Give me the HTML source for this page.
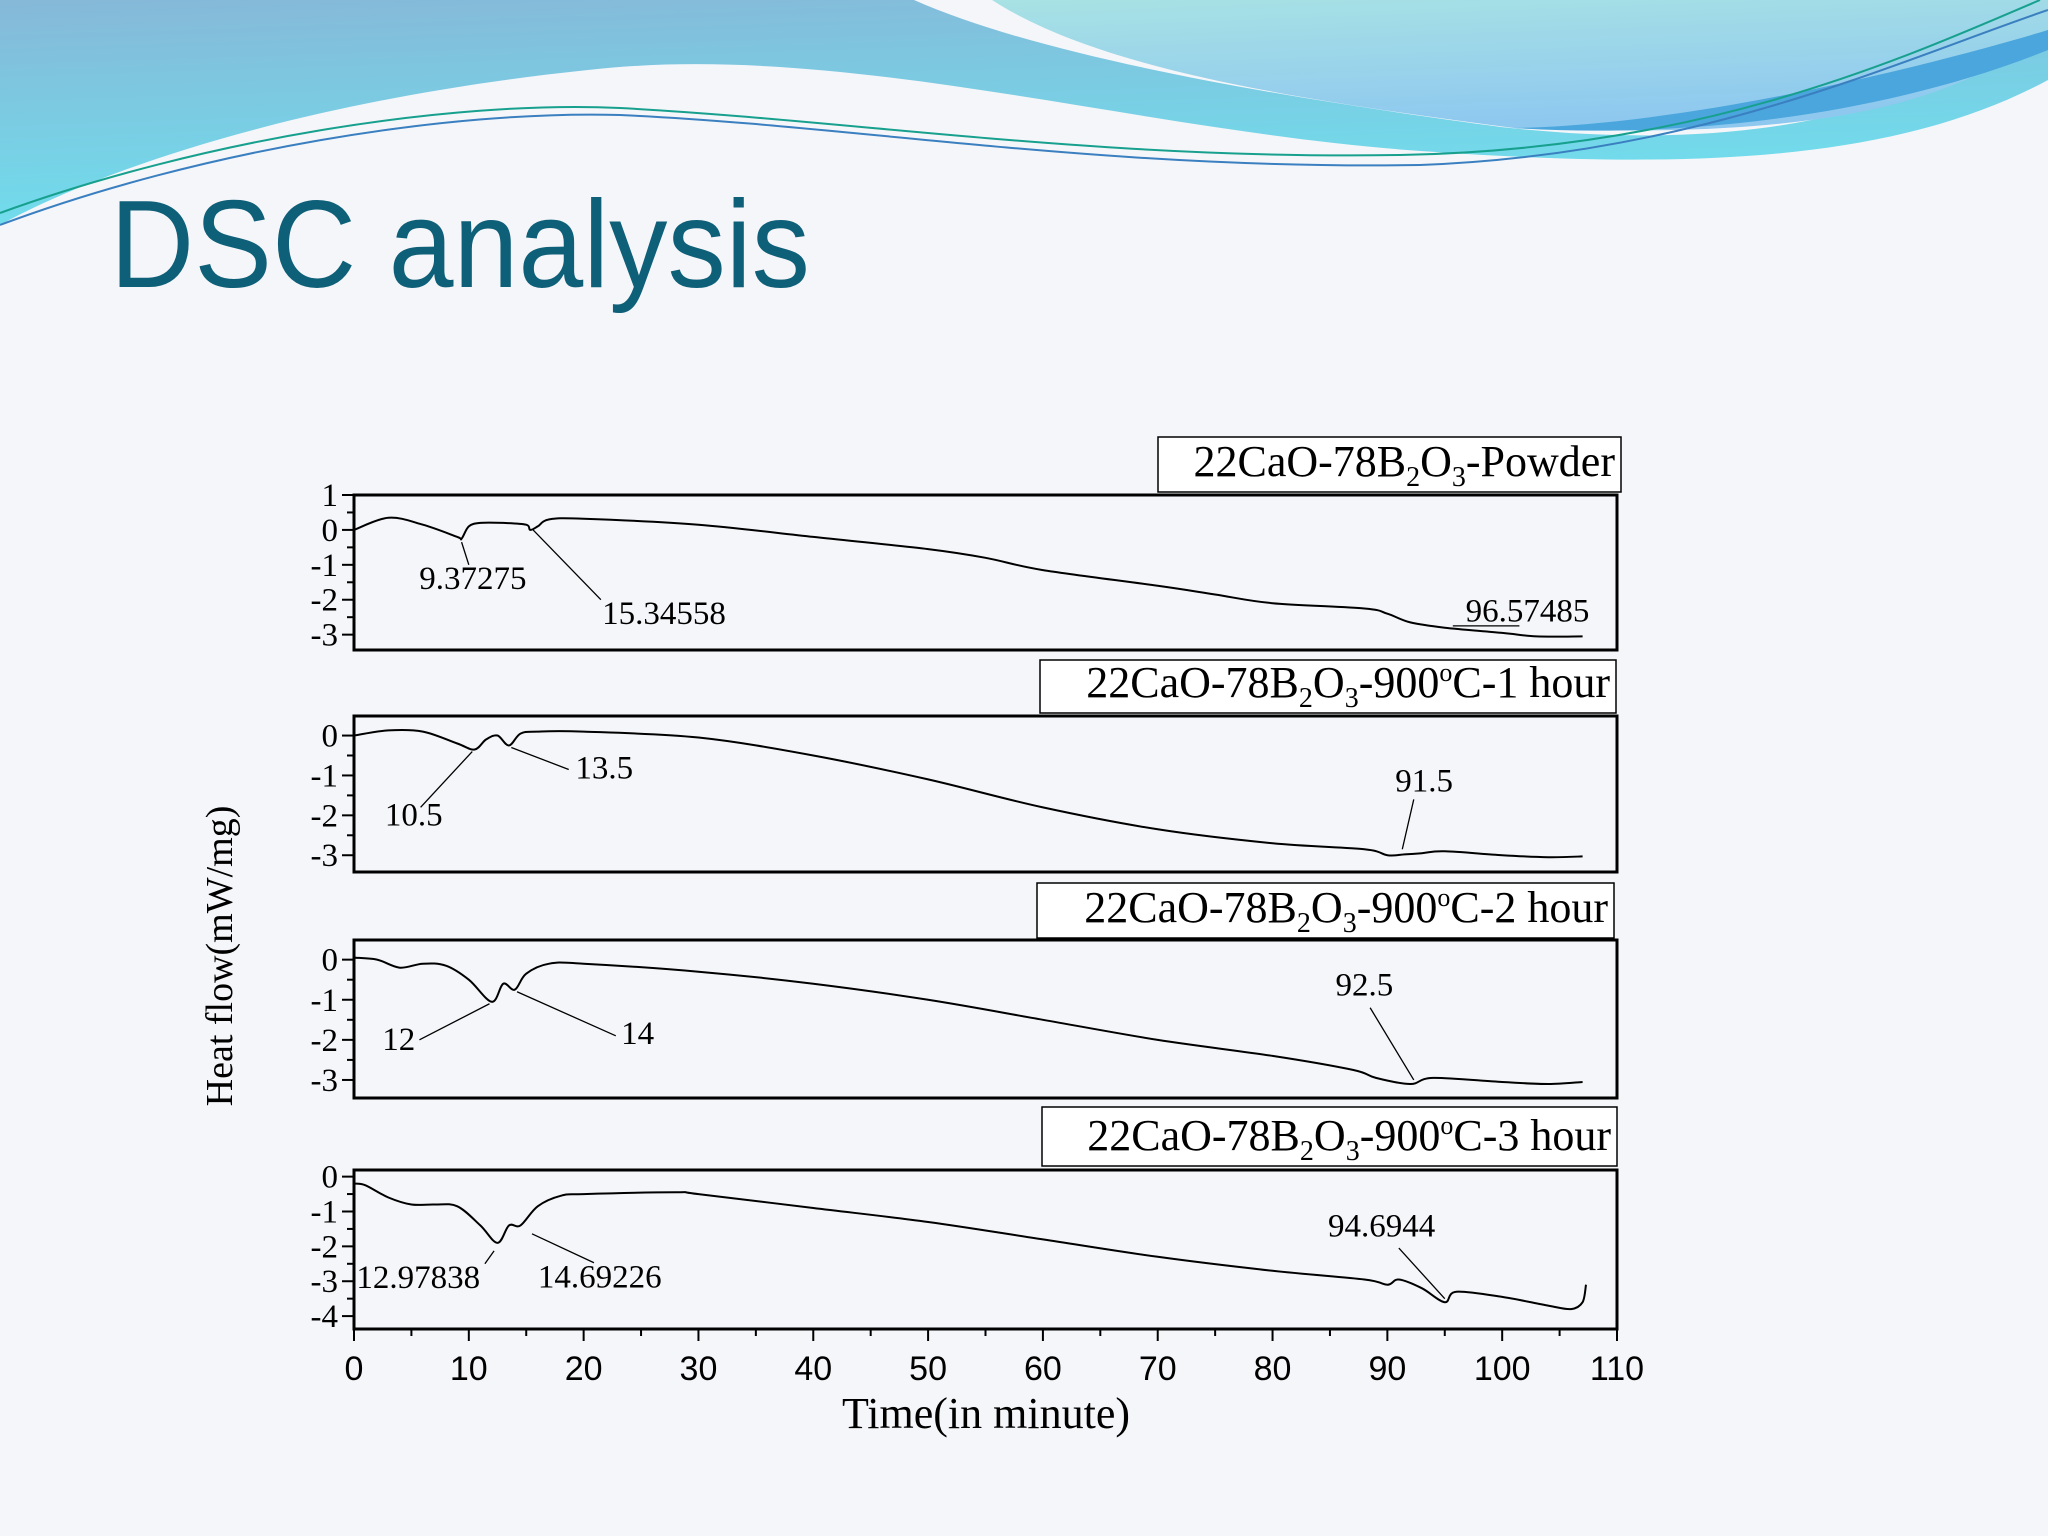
<!DOCTYPE html>
<html><head><meta charset="utf-8"><style>
html,body{margin:0;padding:0;background:#f5f6f9;}
svg{display:block;}
</style></head><body>
<svg width="2048" height="1536" viewBox="0 0 2048 1536" xmlns="http://www.w3.org/2000/svg">
<defs>
<linearGradient id="gL" x1="0" y1="0" x2="0.3" y2="1"><stop offset="0" stop-color="#86b8d8"/><stop offset="1" stop-color="#6fe0ee"/></linearGradient>
<linearGradient id="gR" x1="0" y1="0" x2="0.3" y2="1"><stop offset="0" stop-color="#a8e2e4"/><stop offset="1" stop-color="#8ec8ef"/></linearGradient>
</defs>
<rect width="2048" height="1536" fill="#f5f6f9"/>
<g>
<path d="M0,0 L2048,0 L2048,80 C1900,160 1700,170 1436,152 C1150,135 850,40 588,70 C300,100 100,170 0,225 Z" fill="url(#gL)"/>
<path d="M914,0 L2048,0 L2048,10 C1950,90 1800,160 1501,127 C1300,100 1050,60 914,0 Z" fill="#f5f6f9"/>
<path d="M992,0 L2048,0 L2048,30 C1950,110 1800,140 1514,128 C1300,100 1100,70 992,0 Z" fill="url(#gR)"/>
<path d="M1514,128 C1700,125 1950,60 2048,30 L2048,50 C1900,110 1700,140 1514,128 Z" fill="#4aa6dc"/>
<path d="M0,213 C200,140 450,100 620,108 C850,120 1100,160 1400,155 C1700,150 1900,60 2040,0" fill="none" stroke="#17a08e" stroke-width="2"/>
<path d="M0,225 C200,150 450,110 620,115 C850,125 1100,170 1420,165 C1700,155 1900,60 2048,10" fill="none" stroke="#3a7fc0" stroke-width="2"/>
</g>
<text x="110" y="287" font-family="Liberation Sans, sans-serif" font-size="124" fill="#0e5f78" textLength="700" lengthAdjust="spacingAndGlyphs">DSC analysis</text>
<g id="chart"></g>
</svg>
<script>
const xTicks=[0,10,20,30,40,50,60,70,80,90,100,110];
const p1X=[0,3,6,9,9.37,10,11,13,15,15.35,16,17,20,30,40,50,55,60,70,75,80,88,90,92,95,100,103,107];
const p1Y=[0,0.35,0.15,-0.2,-0.25,0.1,0.2,0.2,0.15,0.0,0.1,0.3,0.32,0.15,-0.2,-0.55,-0.8,-1.15,-1.6,-1.85,-2.1,-2.25,-2.4,-2.65,-2.8,-2.95,-3.05,-3.05];
const p2X=[0,3,6,9,10.5,11.5,12.5,13.5,14.5,16,20,30,40,50,60,70,80,88,90,91.5,93,95,100,104,107];
const p2Y=[0,0.13,0.1,-0.2,-0.35,-0.1,0.0,-0.25,0.05,0.1,0.1,-0.05,-0.5,-1.1,-1.8,-2.35,-2.7,-2.85,-3.0,-2.98,-2.95,-2.9,-3.0,-3.05,-3.03];
const p3X=[0,2,4,6,8,10,12,13,14,15,17,20,30,40,50,60,70,80,87,89,92,94,100,104,107];
const p3Y=[0.05,0,-0.2,-0.1,-0.15,-0.5,-1.05,-0.6,-0.75,-0.35,-0.1,-0.1,-0.3,-0.6,-1.0,-1.5,-2.0,-2.4,-2.75,-2.95,-3.1,-2.95,-3.05,-3.1,-3.05];
const p4X=[0,1,3,5,7,9,11,12.5,13.5,14.5,16,18,20,28,30,40,50,60,70,80,88,90,91,93,95,96,100,104,106,107,107.3];
const p4Y=[-0.2,-0.25,-0.6,-0.8,-0.8,-0.85,-1.4,-1.9,-1.4,-1.4,-0.85,-0.55,-0.5,-0.45,-0.5,-0.9,-1.3,-1.8,-2.3,-2.7,-2.95,-3.1,-2.95,-3.2,-3.6,-3.3,-3.45,-3.7,-3.8,-3.6,-3.1];
const panels=[
 {top:495,bot:650,ymax:1,ymin:-3.44,ticks:[1,0,-1,-2,-3],xs:p1X,ys:p1Y,box:[1158,437,463,55],mid:"-Powder",name:"powder",
  ann:[{t:"9.37275",x:10.35,y:-1.69,l:[9.37,-0.35,10,-1.0]},{t:"15.34558",x:27,y:-2.7,l:[15.6,0,21.5,-2.0]},{t:"96.57485",x:102.2,y:-2.62,l:[95.7,-2.75,101.5,-2.75]}]},
 {top:716,bot:872,ymax:0.49,ymin:-3.42,ticks:[0,-1,-2,-3],xs:p2X,ys:p2Y,box:[1040,660,576,53],h:"-1 hour",name:"900c-1h",
  ann:[{t:"10.5",x:5.2,y:-2.25,l:[10.3,-0.4,5.8,-1.8]},{t:"13.5",x:21.8,y:-1.08,l:[13.7,-0.3,18.7,-0.85]},{t:"91.5",x:93.2,y:-1.4,l:[92.3,-1.6,91.3,-2.85]}]},
 {top:940,bot:1098,ymax:0.49,ymin:-3.45,ticks:[0,-1,-2,-3],xs:p3X,ys:p3Y,box:[1037,883,577,55],h:"-2 hour",name:"900c-2h",
  ann:[{t:"12",x:3.9,y:-2.25,l:[5.7,-2.0,11.8,-1.1]},{t:"14",x:24.7,y:-2.1,l:[14.2,-0.8,22.8,-1.9]},{t:"92.5",x:88,y:-0.9,l:[88.5,-1.2,92.3,-3.0]}]},
 {top:1170,bot:1329,ymax:0.19,ymin:-4.37,ticks:[0,-1,-2,-3,-4],xs:p4X,ys:p4Y,box:[1042,1107,575,59],h:"-3 hour",name:"900c-3h",
  ann:[{t:"12.97838",x:5.6,y:-3.2,l:[12.2,-2.13,11.4,-2.5]},{t:"14.69226",x:21.4,y:-3.18,l:[15.5,-1.64,20.9,-2.47]},{t:"94.6944",x:89.5,y:-1.72,l:[91,-2.05,95,-3.5]}]}
];
const NS="http://www.w3.org/2000/svg";
const g=document.getElementById('chart');
const X0=354,X1=1617;
const sx=v=>X0+(v/110)*(X1-X0);
function mk(tag,attrs,parent){const e=document.createElementNS(NS,tag);for(const k in attrs)e.setAttribute(k,attrs[k]);(parent||g).appendChild(e);return e;}
function smooth(pts){
 let d='M'+pts[0][0].toFixed(1)+','+pts[0][1].toFixed(1);
 for(let i=0;i<pts.length-1;i++){
  const p0=pts[Math.max(i-1,0)],p1=pts[i],p2=pts[i+1],p3=pts[Math.min(i+2,pts.length-1)];
  const c1=[p1[0]+(p2[0]-p0[0])/6,p1[1]+(p2[1]-p0[1])/6];
  const c2=[p2[0]-(p3[0]-p1[0])/6,p2[1]-(p3[1]-p1[1])/6];
  d+=' C'+c1.map(v=>v.toFixed(1)).join(',')+' '+c2.map(v=>v.toFixed(1)).join(',')+' '+p2[0].toFixed(1)+','+p2[1].toFixed(1);
 }
 return d;
}
const serif='"Liberation Serif", serif';
panels.forEach((p,i)=>{
 const sy=v=>p.top+(p.ymax-v)/(p.ymax-p.ymin)*(p.bot-p.top);
 const pg=mk('g',{});
 
 
 const fr=mk('rect',{x:X0,y:p.top,width:X1-X0,height:p.bot-p.top,fill:'none',stroke:'#000','stroke-width':3},pg);
 
 
 for(let v=Math.floor(p.ymax*2)/2; v>=p.ymin; v-=0.5){
  const major=Math.abs(v-Math.round(v))<1e-6;
  mk('line',{x1:X0,x2:X0-(major?12:7),y1:sy(v),y2:sy(v),stroke:'#000','stroke-width':2},pg);
 }
 p.ticks.forEach(v=>{
  const t=mk('text',{x:X0-16,y:sy(v)+11,'font-family':serif,'font-size':33,'text-anchor':'end'},pg);
  t.textContent=String(v);
  
  
 });
 const pts=p.xs.map((x,k)=>[sx(x),sy(p.ys[k])]);
 const ln=mk('path',{d:smooth(pts),fill:'none',stroke:'#000','stroke-width':2,'stroke-linejoin':'round'},pg);
 
 
 p.ann.forEach(a=>{
  mk('line',{x1:sx(a.l[0]),y1:sy(a.l[1]),x2:sx(a.l[2]),y2:sy(a.l[3]),stroke:'#000','stroke-width':1.3},pg);
  const t=mk('text',{x:sx(a.x),y:sy(a.y),'font-family':serif,'font-size':33,'text-anchor':'middle'},pg);
  t.textContent=a.t;
  
  
 });
 const [bx,by,bw,bh]=p.box;
 const bg=mk('g',{},pg);
 
 
 mk('rect',{x:bx,y:by,width:bw,height:bh,fill:'#fff',stroke:'#000','stroke-width':1.5},bg);
 const t=mk('text',{x:bx+bw-6,y:by+bh-16,'font-family':serif,'font-size':44,'text-anchor':'end'},bg);
 if(p.mid){
  t.innerHTML='22CaO-78B<tspan font-size="28" dy="10">2</tspan><tspan dy="-10">O</tspan><tspan font-size="28" dy="10">3</tspan><tspan dy="-10">-Powder</tspan>';
 } else {
  t.innerHTML='22CaO-78B<tspan font-size="28" dy="10">2</tspan><tspan dy="-10">O</tspan><tspan font-size="28" dy="10">3</tspan><tspan dy="-10">-900</tspan><tspan font-size="26" dy="-16">o</tspan><tspan dy="16">C'+p.h+'</tspan>';
 }
 if(i===3){
  xTicks.forEach(v=>{
   mk('line',{x1:sx(v),x2:sx(v),y1:p.bot,y2:p.bot+12,stroke:'#000','stroke-width':2},pg);
   if(v<110) mk('line',{x1:sx(v+5),x2:sx(v+5),y1:p.bot,y2:p.bot+7,stroke:'#000','stroke-width':2},pg);
   const tl=mk('text',{x:sx(v),y:1380,'font-family':'"Liberation Sans", sans-serif','font-size':34,'text-anchor':'middle'},pg);
   tl.textContent=v;
   
   
  });
 }
});
const xt=mk('text',{x:986,y:1428,'font-family':serif,'font-size':44,'text-anchor':'middle'});
xt.textContent='Time(in minute)';


const yt=mk('text',{x:0,y:0,'font-family':serif,'font-size':38,'text-anchor':'middle',transform:'translate(232,956) rotate(-90)'});
yt.textContent='Heat flow(mW/mg)';


</script>
</body></html>
